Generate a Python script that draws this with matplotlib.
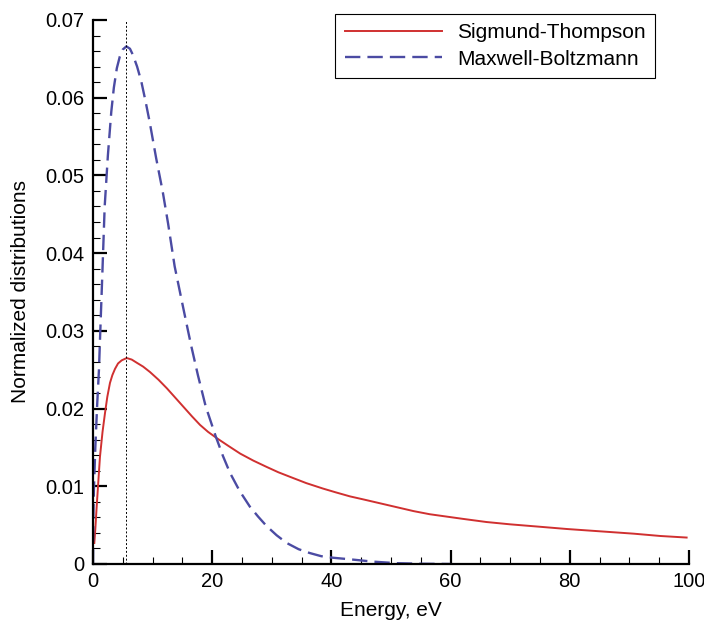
import matplotlib
matplotlib.use('Agg')
import matplotlib.pyplot as plt
from matplotlib.ticker import MultipleLocator

plt.rcParams['font.family'] = ['Liberation Sans', 'DejaVu Sans']

# values
st_energy = [0.22, 0.39, 0.62, 0.85, 1.17, 1.6, 2.01, 2.4, 2.85, 3.25, 3.69, 4.2, 4.81,
             5.65, 6.5, 7.33, 8.4, 9.56, 11.0, 12.4, 13.8, 15.2, 16.6, 17.95, 19.3,
             20.75, 22.7, 24.7, 26.9, 29.1, 31.1, 33.1, 35.8, 38.6, 40.8, 43.1, 45.4,
             48.2, 51.0, 53.8, 56.5, 59.3, 62.1, 66.0, 70.0, 74.8, 79.5, 85.1, 90.7,
             95.2, 99.6]
st_value = [0.0027, 0.0045, 0.0074, 0.0101, 0.0138, 0.0170, 0.0194, 0.0215, 0.0233,
            0.0243, 0.0251, 0.0258, 0.0262, 0.0265, 0.0263, 0.0259, 0.0254, 0.0247,
            0.0237, 0.0226, 0.0214, 0.0202, 0.0190, 0.0179, 0.0170, 0.0162, 0.0152,
            0.0142, 0.0133, 0.0125, 0.0118, 0.0112, 0.0104, 0.0097, 0.0092, 0.0087,
            0.0083, 0.0078, 0.0073, 0.0068, 0.0064, 0.0061, 0.0058, 0.0054, 0.0051,
            0.0048, 0.0045, 0.0042, 0.0039, 0.0036, 0.0034]

mb_energy = [0.0, 0.05, 0.15, 0.39, 0.7, 1.0, 1.23, 1.57, 1.96, 2.5, 3.07, 3.5, 4.0, 4.5,
             5.0, 5.6, 6.2, 6.7, 7.4, 8.1, 8.8, 9.5, 10.6, 11.7, 12.6, 13.7, 15.1, 16.0,
             16.5, 17.6, 18.9, 20.6, 21.8, 23.0, 24.6, 26.3, 27.7, 29.1, 30.8, 32.5,
             34.5, 36.4, 38.3, 40.3, 43.1, 47.0, 51.0, 55.0, 60.0]
mb_value = [0.0, 0.0055, 0.0095, 0.0150, 0.0205, 0.0250, 0.0301, 0.0374, 0.0460,
            0.0526, 0.0582, 0.0613, 0.0638, 0.0653, 0.0662, 0.0666, 0.0663, 0.0655,
            0.0640, 0.0621, 0.0596, 0.0569, 0.0522, 0.0479, 0.0438, 0.0383, 0.0331,
            0.0298, 0.0280, 0.0243, 0.0203, 0.0164, 0.0139, 0.0117, 0.0094, 0.0074,
            0.0061, 0.0049, 0.0037, 0.0027, 0.0019, 0.0014, 0.0010, 0.0008, 0.0006,
            0.0003, 0.0001, 0.00003, 0.0]

peak_energy = 5.6

fig = plt.figure(figsize=(7.04, 6.24), dpi=100)
ax = fig.add_axes([0.1321, 0.0962, 0.8466, 0.8718])

ax.plot(st_energy, st_value, color='#d03030', lw=1.4, label='Sigmund-Thompson')
ax.plot(mb_energy, mb_value, color='#4b4ba3', lw=1.7, dashes=(6.5, 3.0),
        label='Maxwell-Boltzmann')
ax.axvline(peak_energy, color='black', lw=0.7, ls=(0, (2, 2)))

ax.set_xlim(0, 100)
ax.set_ylim(0, 0.07)
ax.xaxis.set_major_locator(MultipleLocator(20))
ax.xaxis.set_minor_locator(MultipleLocator(5))
ax.yaxis.set_major_locator(MultipleLocator(0.01))
ax.yaxis.set_minor_locator(MultipleLocator(0.002))
ax.yaxis.set_major_formatter(plt.FuncFormatter(lambda v, p: '0' if v == 0 else '%g' % round(v, 3)))

ax.spines['top'].set_visible(False)
ax.spines['right'].set_visible(False)
ax.spines['left'].set_linewidth(1.6)
ax.spines['bottom'].set_linewidth(1.6)
ax.tick_params(which='major', direction='in', length=10, width=1.6, labelsize=14.5, pad=6)
ax.tick_params(which='minor', direction='in', length=5, width=0.8)

ax.set_xlabel('Energy, eV', fontsize=15, labelpad=7)
ax.set_ylabel('Normalized distributions', fontsize=15, labelpad=11)

leg = ax.legend(loc='upper right', bbox_to_anchor=(0.943, 1.011), borderaxespad=0,
                fontsize=15, fancybox=False, framealpha=1, edgecolor='black',
                handlelength=4.7, handletextpad=0.7, labelspacing=0.35,
                borderpad=0.45)
leg.get_frame().set_linewidth(0.8)

fig.savefig('out.png', dpi=100)
